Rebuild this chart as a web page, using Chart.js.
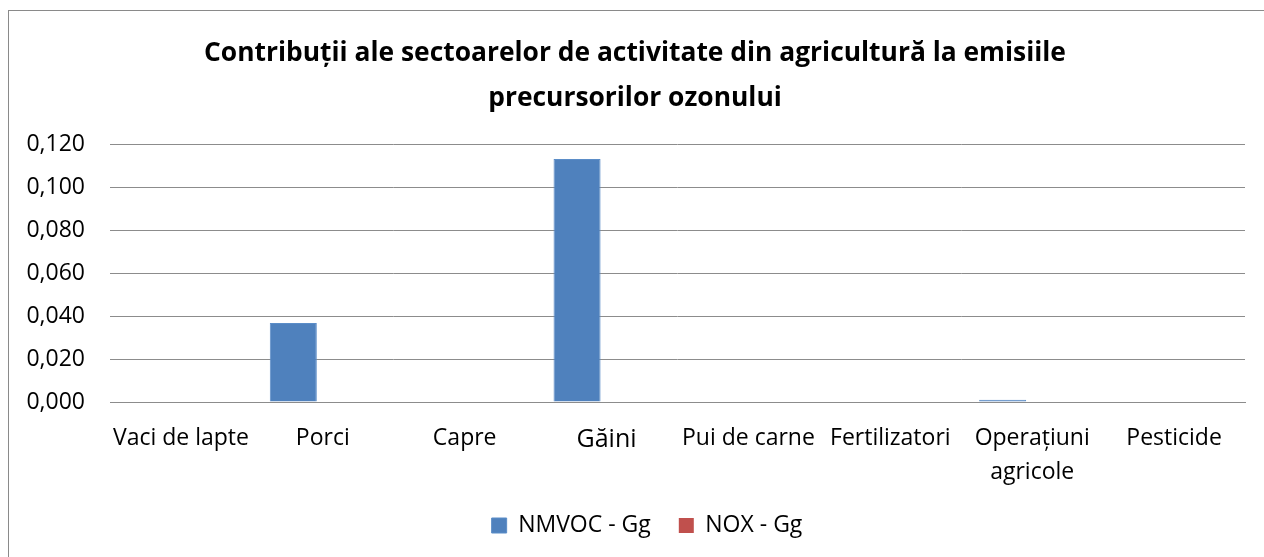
<!DOCTYPE html>
<html>
<head>
<meta charset="utf-8">
<script src="https://cdn.jsdelivr.net/npm/chart.js@4.4.1/dist/chart.umd.min.js"></script>
<style>
  html, body { margin: 0; padding: 0; background: #fff; overflow: hidden; }
  #wrap { position: absolute; left: 0; top: 0; width: 1264px; height: 557px; }
  #frame { position: absolute; left: 8px; top: 10px; width: 1300px; height: 600px; border: 1.5px solid #8a8a8a; box-sizing: border-box; pointer-events: none; }
</style>
</head>
<body>
<div id="wrap"><canvas id="c" width="1264" height="557"></canvas></div>
<div id="frame"></div>
<script>
const categories = ['Vaci de lapte', 'Porci', 'Capre', 'Găini', 'Pui de carne', 'Fertilizatori', ['Operațiuni', 'agricole'], 'Pesticide'];
const nmvoc = [0, 0.0368, 0, 0.1133, 0, 0, 0.001, 0];
const nox = [0, 0, 0, 0, 0, 0, 0, 0];
const seriesNames = ['NMVOC - Gg', 'NOX - Gg'];
const titleLines = ['Contribuții ale sectoarelor de activitate din agricultură la emisiile', 'precursorilor ozonului'];
const yMax = 0.12, yStep = 0.02;

const FONT = "'Open Sans', sans-serif";
const gridColor = '#8c8c8c';

const shiftLegend = {
  id: 'shiftLegend',
  afterLayout(chart) {
    if (chart.legend) { chart.legend.left += 12; chart.legend.right += 12; }
  }
};

new Chart(document.getElementById('c'), {
  type: 'bar',
  data: {
    labels: categories,
    datasets: [
      { label: seriesNames[0], data: nmvoc, backgroundColor: '#4F81BD', borderColor: '#5B8DC8', borderWidth: 1, categoryPercentage: 0.832, barPercentage: 0.797 },
      { label: seriesNames[1], data: nox, backgroundColor: '#C0504D', borderColor: '#C0504D', borderWidth: 0, categoryPercentage: 0.832, barPercentage: 0.797 }
    ]
  },
  plugins: [shiftLegend],
  options: {
    responsive: false,
    animation: false,
    devicePixelRatio: 1,
    layout: { padding: { left: 6, right: 0, top: 0, bottom: 10 } },
    plugins: {
      title: {
        display: true,
        text: titleLines,
        color: '#000',
        font: { family: FONT, size: 26.4, weight: 'bold', lineHeight: 1.7 },
        padding: { top: 31, bottom: 24 }
      },
      legend: {
        position: 'bottom',
        labels: {
          color: '#000',
          font: { family: FONT, size: 23 },
          boxWidth: 15, boxHeight: 15,
          padding: 28
        }
      },
      tooltip: { enabled: false }
    },
    scales: {
      x: {
        grid: { display: false, drawTicks: false },
        border: { display: true, color: gridColor, width: 1 },
        ticks: {
          color: '#000',
          maxRotation: 0, autoSkip: false,
          padding: 20,
          font: (ctx) => ctx.index === 3 ? { family: FONT, size: 25, lineHeight: 1.45 } : { family: FONT, size: 23, lineHeight: 1.45 }
        },
        afterFit: (s) => { s.height = 84; }
      },
      y: {
        min: 0, max: yMax,
        grid: { color: gridColor, lineWidth: 1, drawTicks: false },
        border: { display: false },
        ticks: {
          stepSize: yStep,
          color: '#000',
          padding: 25,
          font: { family: FONT, size: 23 },
          callback: (v) => Number(v).toFixed(3).replace('.', ',')
        },
        afterFit: (s) => { s.width = 104; }
      },
      yr: {
        position: 'right',
        display: true,
        grid: { display: false, drawTicks: false },
        border: { display: false },
        ticks: { display: false },
        afterFit: (s) => { s.width = 19; }
      }
    }
  }
});
</script>
</body>
</html>
